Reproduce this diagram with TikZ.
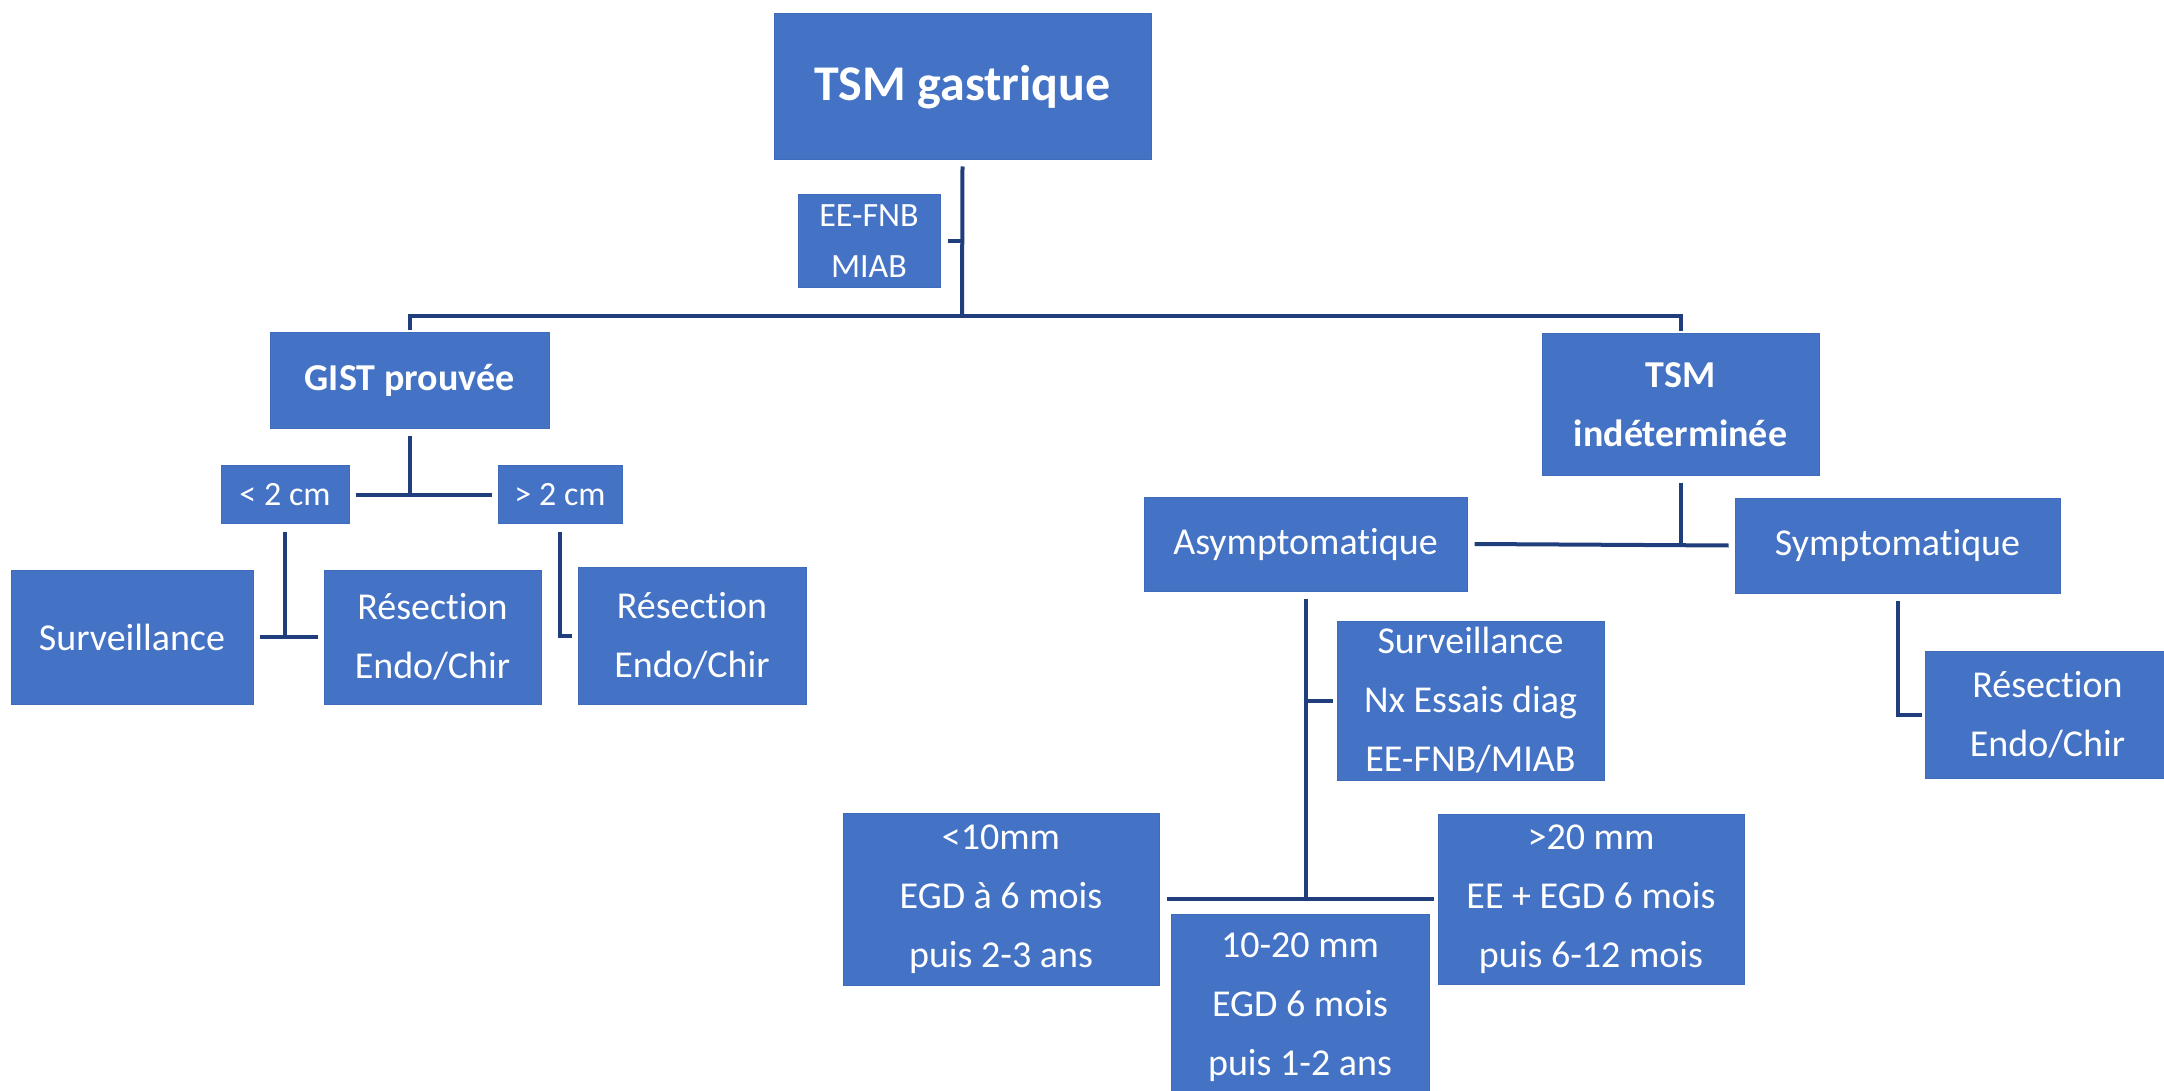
\documentclass[tikz,border=0pt]{standalone}
\usepackage{fontspec}
\setmainfont{Carlito}[Ligatures={NoCommon}]
\definecolor{boxblue}{HTML}{4472C4}
\definecolor{boxedge}{HTML}{3F6BBB}
\definecolor{linenavy}{HTML}{203E7C}
\tikzset{
  x=1pt, y=-1pt,
  box/.style={rectangle, fill=boxblue, draw=boxedge, line width=1pt, text=white,
    align=center, inner sep=0pt, font=\fontsize{38}{59}\selectfont},
  boldbox/.style={box, font=\fontsize{38}{59}\selectfont\bfseries},
  conn/.style={draw=linenavy, line width=4pt, line join=miter}
}
\begin{document}
\begin{tikzpicture}
\useasboundingbox (0,0) rectangle (2164,1091);
% nodes
\node[boldbox, minimum width=377pt, minimum height=146pt, font=\fontsize{50}{60}\selectfont\bfseries] (top) at (962.5,87) {TSM gastrique};
\node[box, minimum width=142pt, minimum height=93pt, font=\fontsize{34}{51}\selectfont] (ee) at (869,241.5) {EE-FNB\\MIAB};
\node[boldbox, minimum width=279pt, minimum height=95pt] (gist) at (409.5,380.5) {GIST prouvée};
\node[box, minimum width=128pt, minimum height=58pt, font=\fontsize{34}{40}\selectfont] (lt2) at (285,494.5) {< 2 cm};
\node[box, minimum width=124pt, minimum height=58pt, font=\fontsize{34}{40}\selectfont] (gt2) at (560,494.5) {> 2 cm};
\node[box, minimum width=242pt, minimum height=134pt] (surv1) at (132,637) {Surveillance};
\node[box, minimum width=217pt, minimum height=134pt] (res1) at (432.5,637) {Résection\\Endo/Chir};
\node[box, minimum width=228pt, minimum height=137pt] (res2) at (692,635.5) {Résection\\Endo/Chir};
\node[boldbox, minimum width=277pt, minimum height=141pt] (indet) at (1680.5,404.5) {TSM\\indéterminée};
\node[box, minimum width=323pt, minimum height=94pt] (asym) at (1305.5,544) {Asymptomatique};
\node[box, minimum width=325pt, minimum height=95pt] (sym) at (1897.5,545.5) {Symptomatique};
\node[box, minimum width=245pt, minimum height=127pt] (res3) at (2047.5,714.5) {Résection\\Endo/Chir};
\node[box, minimum width=267pt, minimum height=159pt] (survN) at (1470.5,700.5) {Surveillance\\Nx Essais diag\\EE-FNB/MIAB};
\node[box, minimum width=316pt, minimum height=172pt] (a10) at (1001,899) {<10mm\\EGD à 6 mois\\puis 2-3 ans};
\node[box, minimum width=306pt, minimum height=170pt] (a20) at (1591,899) {>20 mm\\EE + EGD 6 mois\\puis 6-12 mois};
\node[box, minimum width=258pt, minimum height=186pt] (a1020) at (1300,1007) {10-20 mm\\EGD 6 mois\\puis 1-2 ans};
% connectors
\coordinate (j0) at (962,316);
\draw[conn] ([yshift=-6pt]top.south) -- (j0);
\draw[conn] ([xshift=7pt]ee.east) -- (ee.east -| j0);
\draw[conn] ([yshift=2pt]gist.north) -- (gist.north |- j0) -- (indet.north |- j0) -- ([yshift=2pt]indet.north);
\draw[conn] ([yshift=-7pt]gist.south) -- (gist.south |- lt2.east);
\draw[conn] ([xshift=6pt]lt2.east) -- ([xshift=-6pt]gt2.west);
\draw[conn] ([yshift=-8pt]lt2.south) -- (lt2.south |- surv1.east);
\draw[conn] ([xshift=6pt]surv1.east) -- ([xshift=-6pt]res1.west);
\draw[conn] ([yshift=-8pt]gt2.south) -- (gt2.south |- res2.west) -- ([xshift=-6pt]res2.west);
\draw[conn] ([yshift=-7pt]indet.south) -- (indet.south |- asym.east);
\draw[conn] ([xshift=7pt]asym.east) -- ([xshift=-6pt]sym.west);
\draw[conn] ([yshift=-7pt]sym.south) -- (sym.south |- res3.west) -- ([xshift=-3pt]res3.west);
\draw[conn] ([yshift=-7pt]asym.south) -- (asym.south |- a10.east);
\draw[conn] (asym.south |- survN.west) -- ([xshift=-4pt]survN.west);
\draw[conn] ([xshift=7pt]a10.east) -- ([xshift=-4pt]a20.west);
\end{tikzpicture}
\end{document}
